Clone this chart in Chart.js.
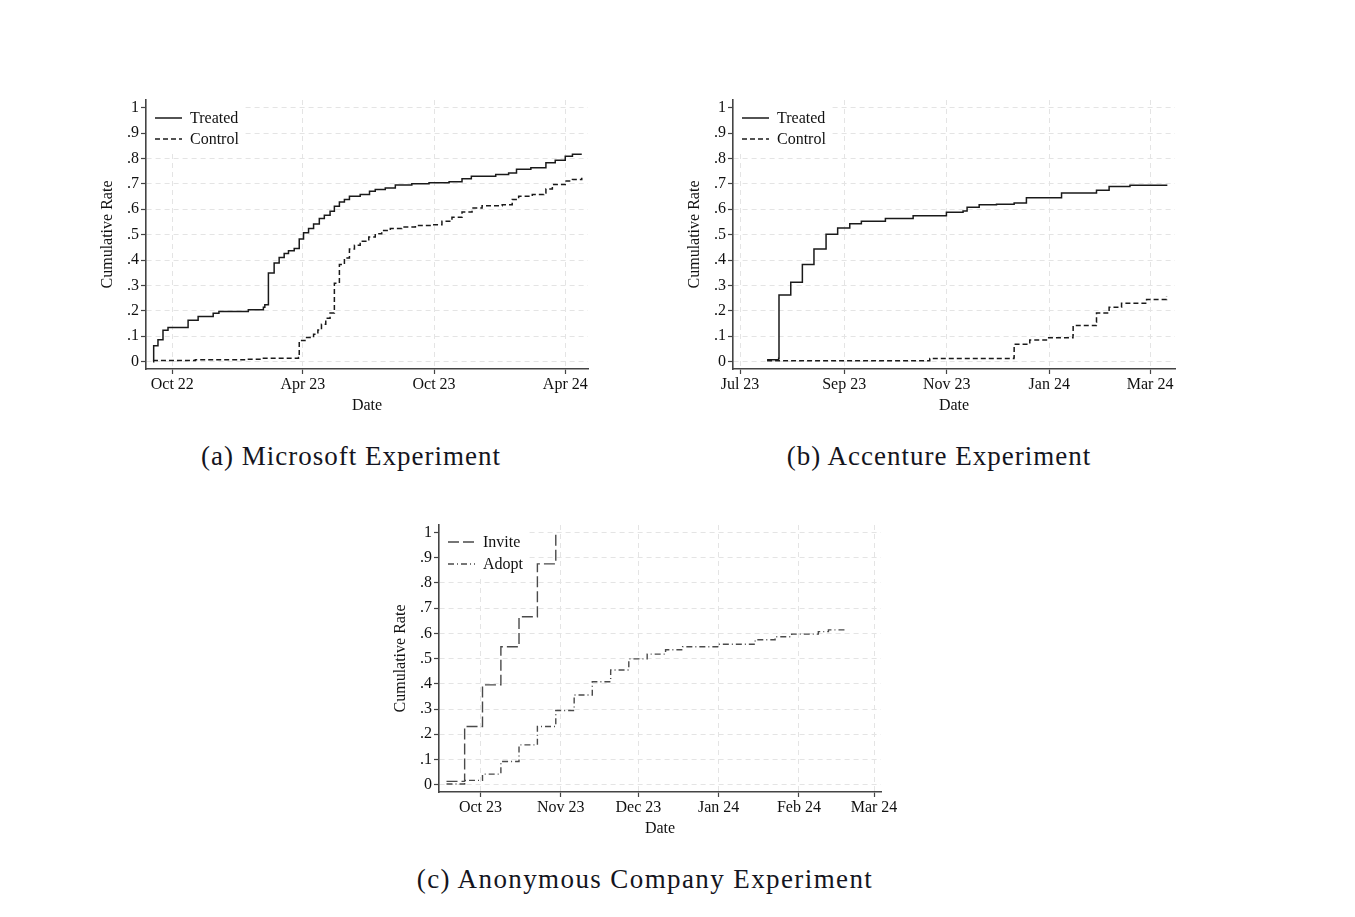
<!DOCTYPE html>
<html>
<head>
<meta charset="utf-8">
<script src="https://cdn.jsdelivr.net/npm/chart.js@4.4.1/dist/chart.umd.min.js"></script>
<style>
    body {
        margin: 0;
        background: #fff;
        width: 1355px;
        height: 917px;
        position: relative;
        overflow: hidden;
        font-family: "Liberation Serif", serif;
    }

    canvas {
        position: absolute;
    }

    .legenda {
        position: absolute;
        font-size: 27px;
        line-height: 27px;
        letter-spacing: 1px;
        color: #141420;
        white-space: nowrap;
        transform: translateX(-50%);
    }
</style>
</head>
<body>

<canvas id="graficoA" width="510" height="330" style="left:90px;top:90px"></canvas>
<canvas id="graficoB" width="515" height="330" style="left:677px;top:90px"></canvas>
<canvas id="graficoC" width="530" height="330" style="left:383px;top:515px"></canvas>

<div class="legenda" style="left:351px;top:443px">(a) Microsoft Experiment</div>
<div class="legenda" style="left:939px;top:443px">(b) Accenture Experiment</div>
<div class="legenda" style="left:645px;top:866px;letter-spacing:1.4px">(c) Anonymous Company Experiment</div>

<script>

// eixo y comum
const yTicks = [0, 0.1, 0.2, 0.3, 0.4, 0.5, 0.6, 0.7, 0.8, 0.9, 1];
const yTickLabels = ["0", ".1", ".2", ".3", ".4", ".5", ".6", ".7", ".8", ".9", "1"];

// (a) Microsoft - dias desde 1 out 2022
const msTicks = [0, 182, 365, 548];
const msTickLabels = ["Oct 22", "Apr 23", "Oct 23", "Apr 24"];

const msTreated = [
    [-27, 0], [-26, 0.063], [-20, 0.086], [-13, 0.124], [-6, 0.134],
    [22, 0.163], [36, 0.178], [57, 0.19], [65, 0.197], [106, 0.204],
    [127, 0.214], [129, 0.224], [134, 0.349], [142, 0.388], [149, 0.41],
    [156, 0.426], [162, 0.437], [170, 0.445], [177, 0.483], [183, 0.507],
    [190, 0.524], [197, 0.542], [205, 0.563], [212, 0.576], [220, 0.592],
    [226, 0.612], [233, 0.628], [240, 0.638], [247, 0.651], [262, 0.658],
    [275, 0.671], [283, 0.678], [297, 0.684], [311, 0.695], [334, 0.700],
    [358, 0.704], [386, 0.708], [404, 0.72], [417, 0.730], [451, 0.737],
    [469, 0.743], [480, 0.757], [500, 0.763], [521, 0.783], [534, 0.793],
    [548, 0.809], [558, 0.816], [571, 0.816]
];

const msControl = [
    [-27, 0.004], [32, 0.007], [102, 0.009], [125, 0.013], [176, 0.016],
    [177, 0.083], [185, 0.095], [197, 0.108], [203, 0.125], [208, 0.147],
    [214, 0.171], [220, 0.191], [226, 0.309], [233, 0.382], [240, 0.408],
    [247, 0.443], [254, 0.458], [262, 0.474], [274, 0.491], [283, 0.503],
    [292, 0.516], [304, 0.524], [320, 0.530], [339, 0.536], [362, 0.539],
    [376, 0.553], [390, 0.568], [404, 0.589], [418, 0.605], [432, 0.614],
    [460, 0.618], [474, 0.638], [483, 0.651], [502, 0.658], [518, 0.664],
    [521, 0.680], [530, 0.697], [548, 0.711], [558, 0.717], [571, 0.724]
];

// (b) Accenture - dias desde 1 jul 2023
const acTicks = [0, 62, 123, 184, 244];
const acTickLabels = ["Jul 23", "Sep 23", "Nov 23", "Jan 24", "Mar 24"];

const acTreated = [
    [16.1, 0.007], [23, 0.013], [23.2, 0.262], [30.2, 0.313], [37.1, 0.382],
    [44, 0.443], [51.2, 0.501], [58.1, 0.526], [65.3, 0.543], [72.2, 0.553],
    [86.5, 0.563], [103, 0.574], [122.8, 0.588], [132.7, 0.593], [135.1, 0.608],
    [142.3, 0.618], [152.6, 0.62], [163.1, 0.625], [170.4, 0.645], [191.3, 0.664],
    [212.1, 0.675], [219.6, 0.689], [232, 0.694], [253.8, 0.697]
];

const acControl = [
    [16.1, 0.003], [106, 0.003], [112.9, 0.012], [163, 0.017], [163.1, 0.068],
    [172.4, 0.085], [182.3, 0.094], [198.1, 0.105], [198.2, 0.142], [212, 0.155],
    [212.1, 0.191], [219.6, 0.214], [227, 0.230], [241.9, 0.245], [253.8, 0.257]
];

// (c) Anonymous - dias desde 1 out 2023
const anTicks = [0, 31, 61, 92, 123, 152];
const anTickLabels = ["Oct 23", "Nov 23", "Dec 23", "Jan 24", "Feb 24", "Mar 24"];

const anInvite = [
    [-13.1, 0.013], [-6.1, 0.231], [0.8, 0.396], [7.9, 0.547],
    [14.9, 0.666], [22, 0.876], [29.1, 1.0]
];

const anAdopt = [
    [-13.1, 0.003], [-6.1, 0.017], [0.8, 0.042], [7.9, 0.092], [14.9, 0.158],
    [22, 0.231], [29.1, 0.294], [36.2, 0.356], [43.2, 0.408], [50.3, 0.455],
    [57.3, 0.499], [64.4, 0.518], [71.5, 0.535], [78.1, 0.547], [91.9, 0.557],
    [106.1, 0.575], [113.8, 0.587], [120.2, 0.597], [130.5, 0.607], [134.4, 0.614],
    [140.9, 0.621]
];


Chart.defaults.font.family = "'Liberation Serif', serif";
Chart.defaults.font.size = 16;
Chart.defaults.color = "#111";

// legenda dentro do grafico (canto superior esquerdo)
const legendaInterna = {
    id: "legendaInterna",

    beforeDatasetsDraw(chart, args, opts) {

        const ctx = chart.ctx;
        const area = chart.chartArea;

        ctx.save();
        ctx.fillStyle = "#fff";
        ctx.fillRect(area.left + 1, area.top, opts.boxW, opts.boxH);

        let x = area.left + opts.dx;

        chart.data.datasets.forEach(function(ds, i) {

            let y = area.top + opts.dy + i * opts.row;

            ctx.strokeStyle = ds.borderColor;
            ctx.lineWidth = ds.borderWidth;
            ctx.setLineDash(ds.borderDash || []);
            ctx.beginPath();
            ctx.moveTo(x, y);
            ctx.lineTo(x + 27, y);
            ctx.stroke();

            ctx.setLineDash([]);
            ctx.fillStyle = "#111";
            ctx.font = "16px 'Liberation Serif'";
            ctx.textBaseline = "middle";
            ctx.fillText(ds.label, x + 35, y + 1);
        });

        ctx.restore();
    }
};


function criarPainel(id, series, xMin, xMax, ticks, tickLabels, padding, legenda) {

    const ctx = document.getElementById(id);

    return new Chart(ctx, {

        type: "line",

        data: {
            datasets: series.map(function(s) {
                return {
                    label: s.label,
                    data: s.data,
                    borderColor: s.color,
                    borderWidth: s.width,
                    borderDash: s.dash,
                    stepped: true,
                    pointRadius: 0,
                    fill: false
                };
            })
        },

        options: {
            responsive: false,
            animation: false,
            events: [],

            layout: {
                padding: padding
            },

            plugins: {
                legend: { display: false },
                tooltip: { enabled: false },
                legendaInterna: legenda
            },

            scales: {
                x: {
                    type: "linear",
                    min: xMin,
                    max: xMax,
                    afterBuildTicks: function(scale) {
                        scale.ticks = ticks.map(function(v) { return { value: v }; });
                    },
                    afterFit: function(scale) {
                        scale.height = 46;
                        scale.paddingLeft = 0;
                        scale.paddingRight = 0;
                    },
                    ticks: {
                        autoSkip: false,
                        maxRotation: 0,
                        padding: 1,
                        callback: function(value, index) {
                            return tickLabels[index];
                        }
                    },
                    grid: {
                        color: "#e4e4e4",
                        tickLength: 5,
                        tickColor: "#444",
                        tickWidth: 1.2
                    },
                    border: {
                        color: "#444",
                        width: 1.6,
                        dash: [5, 4]
                    },
                    title: {
                        display: true,
                        text: "Date",
                        padding: { top: 0, bottom: 0 }
                    }
                },

                y: {
                    min: -0.029,
                    max: 1.03,
                    afterBuildTicks: function(scale) {
                        scale.ticks = yTicks.map(function(v) { return { value: v }; });
                    },
                    afterFit: function(scale) {
                        scale.width = 56;
                        scale.paddingTop = 0;
                        scale.paddingBottom = 0;
                    },
                    ticks: {
                        autoSkip: false,
                        padding: 2,
                        callback: function(value, index) {
                            return yTickLabels[index];
                        }
                    },
                    grid: {
                        color: "#e4e4e4",
                        tickLength: 5,
                        tickColor: "#444",
                        tickWidth: 1.2
                    },
                    border: {
                        color: "#444",
                        width: 1.6,
                        dash: [5, 4]
                    },
                    title: {
                        display: true,
                        text: "Cumulative Rate",
                        padding: { top: 8, bottom: 0 }
                    }
                }
            }
        },

        plugins: [legendaInterna]
    });
}


criarPainel(
    "graficoA",
    [
        { label: "Treated", data: msTreated, color: "#1a1a1a", width: 1.5, dash: [] },
        { label: "Control", data: msControl, color: "#1a1a1a", width: 1.5, dash: [5, 3] }
    ],
    -36.7, 579.7, msTicks, msTickLabels,
    { left: 0, right: 12, top: 10, bottom: 5 },
    { dx: 9, dy: 18, row: 21, boxW: 96, boxH: 50 }
);

criarPainel(
    "graficoB",
    [
        { label: "Treated", data: acTreated, color: "#1a1a1a", width: 1.5, dash: [] },
        { label: "Control", data: acControl, color: "#1a1a1a", width: 1.5, dash: [5, 3] }
    ],
    -4.17, 258.8, acTicks, acTickLabels,
    { left: 0, right: 17, top: 10, bottom: 5 },
    { dx: 9, dy: 18, row: 21, boxW: 96, boxH: 50 }
);

criarPainel(
    "graficoC",
    [
        { label: "Invite", data: anInvite, color: "#4a4a4a", width: 1.4, dash: [11, 4] },
        { label: "Adopt", data: anAdopt, color: "#4a4a4a", width: 1.4, dash: [6, 3, 1, 3] }
    ],
    -16, 154.7, anTicks, anTickLabels,
    { left: 0, right: 32, top: 10, bottom: 7 },
    { dx: 9, dy: 17, row: 22, boxW: 88, boxH: 50 }
);

</script>
</body>
</html>
